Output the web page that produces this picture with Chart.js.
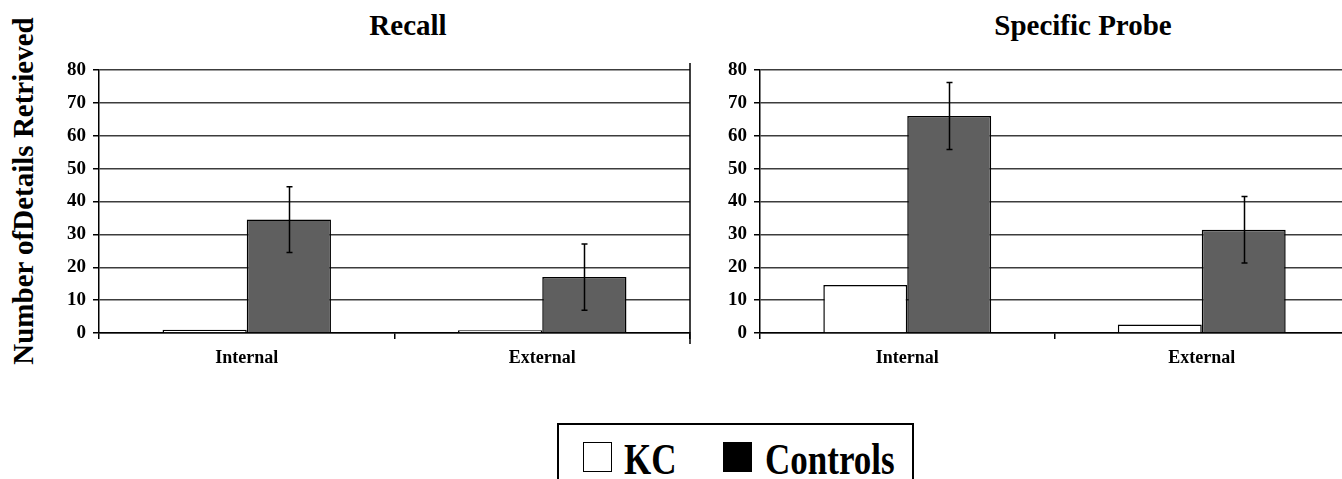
<!DOCTYPE html>
<html>
<head>
<meta charset="utf-8">
<script src="https://cdn.jsdelivr.net/npm/chart.js@4.4.0/dist/chart.umd.min.js"></script>
<style>
    body {
        margin: 0;
        width: 1342px;
        height: 479px;
        overflow: hidden;
        background: #fff;
        position: relative;
        font-family: 'Liberation Serif', 'Times New Roman', serif;
        font-weight: bold;
        color: #000;
    }
    canvas { position: absolute; }
    .title {
        position: absolute;
        top: 11px;
        font-size: 29px;
        line-height: 29px;
        white-space: nowrap;
        transform: translateX(-50%);
    }
    #yTitle {
        position: absolute;
        left: -157px;
        top: 176px;
        width: 360px;
        text-align: center;
        font-size: 29px;
        line-height: 30px;
        white-space: nowrap;
        transform: rotate(-90deg);
    }
    #legend {
        position: absolute;
        left: 557px;
        top: 423px;
        width: 357px;
        height: 70px;
        border: 2px solid #000;
        box-sizing: border-box;
    }
    .swatch {
        position: absolute;
        top: 17px;
        width: 27px;
        height: 28px;
        border: 1.5px solid #000;
    }
    .label {
        position: absolute;
        top: 13px;
        font-size: 35px;
        line-height: 35px;
        white-space: nowrap;
        transform: scaleY(1.25);
        transform-origin: left top;
    }
</style>
</head>
<body>
<div class="title" style="left:408px">Recall</div>
<div class="title" style="left:1083px">Specific Probe</div>
<div id="yTitle">Number ofDetails Retrieved</div>

<canvas id="recallChart" width="660" height="323" style="left:40px; top:50px"></canvas>
<canvas id="probeChart" width="659" height="323" style="left:700px; top:50px"></canvas>

<div id="legend">
    <div class="swatch" style="left:24px; background:#fff"></div>
    <div class="label" style="left:65px">KC</div>
    <div class="swatch" style="left:164px; background:#000"></div>
    <div class="label" style="left:206px">Controls</div>
</div>

<script>
// Dados
const categories = ['Internal', 'External'];
const yTicks = [0, 10, 20, 30, 40, 50, 60, 70, 80];

const recallKC = [1, 0.8];
const recallControls = [34.5, 17];
const recallControlsErr = [10, 10.1];

const probeKC = [14.6, 2.6];
const probeControls = [66, 31.4];
const probeControlsErr = [10.2, 10.1];

const colors = {
    kc: '#ffffff',
    controls: '#5f5f5f',
    border: '#000000',
    grid: '#3c3c3c'
};

// Barras de erro (só para séries com "errors")
const errorBars = {
    id: 'errorBars',
    afterDatasetsDraw(chart) {
        const ctx = chart.ctx;
        const yScale = chart.scales.y;
        chart.data.datasets.forEach((ds, i) => {
            if (!ds.errors) return;
            const meta = chart.getDatasetMeta(i);
            meta.data.forEach((bar, j) => {
                const v = ds.data[j];
                const e = ds.errors[j];
                const top = yScale.getPixelForValue(v + e);
                const bot = yScale.getPixelForValue(v - e);
                const x = Math.round(bar.x) + 0.5;
                ctx.save();
                ctx.strokeStyle = '#000';
                ctx.lineWidth = 1.5;
                ctx.beginPath();
                ctx.moveTo(x, top);
                ctx.lineTo(x, bot);
                ctx.moveTo(x - 3, top);
                ctx.lineTo(x + 3, top);
                ctx.moveTo(x - 3, bot);
                ctx.lineTo(x + 3, bot);
                ctx.stroke();
                ctx.restore();
            });
        });
    }
};

// Linha vertical à direita da área do gráfico
const rightEdge = {
    id: 'rightEdge',
    afterDraw(chart) {
        const a = chart.chartArea;
        const ctx = chart.ctx;
        ctx.save();
        ctx.strokeStyle = '#000';
        ctx.lineWidth = 1.5;
        ctx.beginPath();
        ctx.moveTo(a.right, a.top - 7);
        ctx.lineTo(a.right, a.bottom + 11);
        ctx.stroke();
        ctx.restore();
    }
};

function makeChart(id, kc, controls, errs, yWidth) {
    const ctx = document.getElementById(id);
    if (!ctx) return;

    new Chart(ctx, {
        type: 'bar',
        data: {
            labels: categories,
            datasets: [{
                label: 'KC',
                data: kc,
                backgroundColor: colors.kc,
                borderColor: colors.border,
                borderWidth: 1.5,
                barPercentage: 1,
                categoryPercentage: 0.57
            }, {
                label: 'Controls',
                data: controls,
                errors: errs,
                backgroundColor: colors.controls,
                borderColor: colors.border,
                borderWidth: 1.5,
                barPercentage: 1,
                categoryPercentage: 0.57
            }]
        },
        options: {
            responsive: false,
            animation: false,
            layout: { padding: { top: 20, right: 10, left: 0, bottom: 0 } },
            plugins: {
                legend: { display: false },
                title: { display: false },
                tooltip: { enabled: false }
            },
            scales: {
                y: {
                    min: 0,
                    max: 80,
                    afterFit(scale) { scale.width = yWidth; },
                    afterBuildTicks(scale) { scale.ticks = yTicks.map(v => ({ value: v })); },
                    ticks: {
                        color: '#000',
                        padding: 7,
                        font: { family: "'Liberation Serif', serif", size: 19, weight: 'bold' }
                    },
                    grid: {
                        color: colors.grid,
                        lineWidth: 1.5,
                        tickLength: 6,
                        tickColor: '#000'
                    },
                    border: { display: true, color: '#000', width: 1.5 }
                },
                x: {
                    afterFit(scale) { scale.height = 40; },
                    ticks: {
                        color: '#000',
                        padding: 9,
                        font: { family: "'Liberation Serif', serif", size: 18, weight: 'bold' }
                    },
                    grid: {
                        offset: true,
                        drawOnChartArea: false,
                        drawTicks: true,
                        tickLength: 6,
                        tickColor: '#000',
                        lineWidth: 1.5
                    },
                    border: { display: true, color: '#000', width: 1.5 }
                }
            }
        },
        plugins: [errorBars, rightEdge]
    });
}

makeChart('recallChart', recallKC, recallControls, recallControlsErr, 59);
makeChart('probeChart', probeKC, probeControls, probeControlsErr, 60);
</script>
</body>
</html>
